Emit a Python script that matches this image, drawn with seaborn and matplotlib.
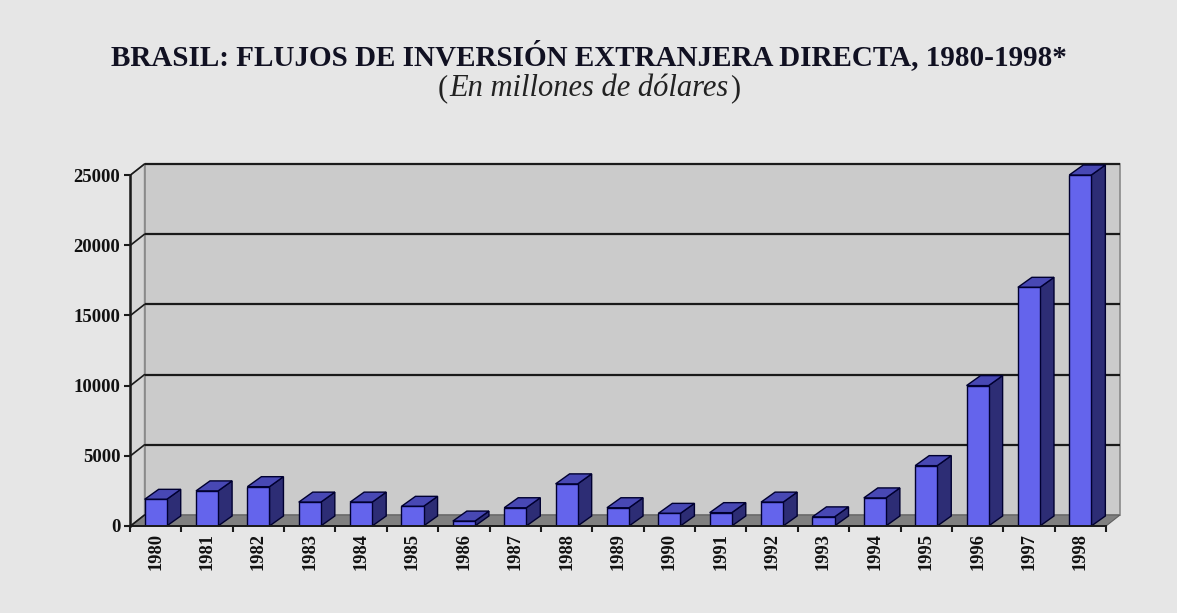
import matplotlib
matplotlib.use("Agg")
import matplotlib.pyplot as plt
from matplotlib.patches import Polygon
import seaborn as sns
import pandas as pd

years = [str(y) for y in range(1980, 1999)]
values = [1900, 2500, 2800, 1700, 1700, 1400, 350, 1300, 3000, 1300,
          900, 950, 1700, 650, 2000, 4300, 10000, 17000, 25000]
yticks = [0, 5000, 10000, 15000, 20000, 25000]

title = "BRASIL: FLUJOS DE INVERSIÓN EXTRANJERA DIRECTA, 1980-1998*"
subtitle = "En millones de dólares"

BG = "#e6e6e6"
WALL = "#cbcbcb"
SIDEWALL = "#d6d6d6"
FLOOR = "#808080"
FRONT = "#6464ec"
SIDE = "#2d2d75"
TOP = "#4848b4"
EDGE = "#000030"
SERIF = ["Liberation Serif", "DejaVu Serif"]

sns.set_theme(style="white")
plt.rcParams["font.family"] = SERIF

W, H = 1177, 613
fig = plt.figure(figsize=(W / 100, H / 100), dpi=100, facecolor=BG)
ax = fig.add_axes([130 / W, (H - 526) / H, (1106 - 130) / W, (526 - 175) / H])
ax.patch.set_visible(False)

df = pd.DataFrame({"year": years, "value": values})
sns.barplot(data=df, x="year", y="value", color=FRONT, width=0.43,
            edgecolor=EDGE, linewidth=1.0, saturation=1, ax=ax, zorder=5)

x0, x1 = -0.49, 18.5
ax.set_xlim(x0, x1)
ax.set_ylim(0, 25000)

# depth offset (pixels) converted into data units through the axes scales
fig.canvas.draw()
ppx = ax.transData.transform((1, 0))[0] - ax.transData.transform((0, 0))[0]
ppy = ax.transData.transform((0, 1))[1] - ax.transData.transform((0, 0))[1]
wdx, wdy = 14 / ppx, 11 / ppy      # walls
bdx, bdy = 14 / ppx, 10 / ppy      # bars
ymax = yticks[-1]

# back wall
ax.add_patch(Polygon([(x0 + wdx, wdy), (x1 + wdx, wdy), (x1 + wdx, ymax + wdy),
                      (x0 + wdx, ymax + wdy)], closed=True, facecolor=WALL,
                     edgecolor="#8a8a8a", lw=1.2, clip_on=False, zorder=0.5))
# left side wall
ax.add_patch(Polygon([(x0, 0), (x0 + wdx, wdy), (x0 + wdx, ymax + wdy), (x0, ymax)],
                     closed=True, facecolor=SIDEWALL, edgecolor="#8a8a8a", lw=1.0,
                     clip_on=False, zorder=0.6))
# floor
ax.add_patch(Polygon([(x0, 0), (x1, 0), (x1 + wdx, wdy), (x0 + wdx, wdy)],
                     closed=True, facecolor=FLOOR, edgecolor="#606060", lw=0.8,
                     clip_on=False, zorder=0.7))
# gridlines on back wall + connectors on side wall
for t in yticks[1:]:
    ax.plot([x0 + wdx, x1 + wdx], [t + wdy, t + wdy], color="#1a1a1a", lw=1.6,
            clip_on=False, zorder=0.8, solid_capstyle="butt")
for t in yticks:
    ax.plot([x0, x0 + wdx], [t, t + wdy], color="#1a1a1a", lw=1.2,
            clip_on=False, zorder=0.8)

# 3D sides and tops of the seaborn bars
for p in list(ax.patches):
    if p.get_zorder() != 5 or p.get_height() <= 0:
        continue
    bx, bw, bh = p.get_x(), p.get_width(), p.get_height()
    ax.add_patch(Polygon([(bx + bw, 0), (bx + bw + bdx, bdy), (bx + bw + bdx, bh + bdy),
                          (bx + bw, bh)], closed=True, facecolor=SIDE, edgecolor=EDGE,
                         lw=1.0, clip_on=False, zorder=4))
    ax.add_patch(Polygon([(bx, bh), (bx + bw, bh), (bx + bw + bdx, bh + bdy),
                          (bx + bdx, bh + bdy)], closed=True, facecolor=TOP,
                         edgecolor=EDGE, lw=1.0, clip_on=False, zorder=4))

# axes styling
for s in ["top", "right"]:
    ax.spines[s].set_visible(False)
ax.spines["left"].set_color("#1a1a1a")
ax.spines["left"].set_linewidth(1.8)
ax.spines["bottom"].set_color("#1a1a1a")
ax.spines["bottom"].set_linewidth(1.4)
for sp in ax.spines.values():
    sp.set_zorder(6)
ax.set_yticks(yticks)
ax.set_yticklabels([str(t) for t in yticks], fontsize=13.5, fontweight="bold",
                   family=SERIF, color="#111111")
ax.set_xticks(range(len(years)))
ax.set_xticklabels(years, rotation=90, fontsize=13.3, fontweight="bold",
                   family=SERIF, color="#111111")
ax.set_xticks([i + 0.5 for i in range(-1, len(years))], minor=True)
ax.tick_params(axis="y", which="major", length=4, width=1.5, color="#1a1a1a",
               direction="out", left=True, pad=3)
ax.tick_params(axis="x", which="major", length=0, pad=5)
ax.tick_params(axis="x", which="minor", length=4, width=1.5, color="#1a1a1a",
               direction="out", bottom=True)
ax.set_xlabel("")
ax.set_ylabel("")

# titles
fig.text(0.5, 1 - 65 / H, title, ha="center", va="baseline", fontsize=21,
         fontweight="bold", family=SERIF, color="#111122")
SUB_FS = 22
SUB_Y = 1 - 96 / H
sub = fig.text(0.5, SUB_Y, subtitle, ha="center", va="baseline", fontsize=SUB_FS,
               style="italic", family=SERIF, color="#222222")
fig.canvas.draw()
bb = sub.get_window_extent(fig.canvas.get_renderer())
fig.text((bb.x0 - 1) / W, SUB_Y, "(", ha="right", va="baseline", fontsize=SUB_FS,
         family=SERIF, color="#222222")
fig.text((bb.x1 + 2) / W, SUB_Y, ")", ha="left", va="baseline", fontsize=SUB_FS,
         family=SERIF, color="#222222")

fig.savefig("out.png", dpi=100, facecolor=BG)
